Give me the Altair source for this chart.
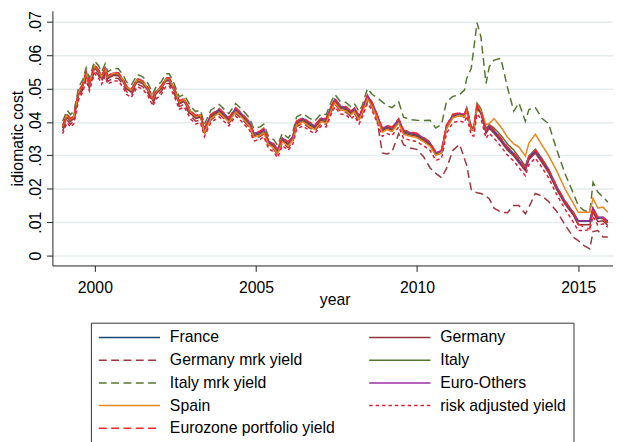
import altair as alt
import pandas as pd

dates = [1999.00,1999.14,1999.24,1999.35,1999.50,1999.62,1999.73,1999.83,1999.99,2000.11,
         2000.21,2000.32,2000.40,2000.57,2000.73,2000.88,2000.98,2001.13,2001.32,2001.49,
         2001.65,2001.80,2001.90,2002.06,2002.21,2002.31,2002.46,2002.62,2002.77,2002.98,
         2003.13,2003.28,2003.40,2003.60,2003.86,2004.16,2004.37,2004.57,2004.80,2004.93,
         2005.13,2005.24,2005.39,2005.55,2005.67,2005.82,2006.00,2006.15,2006.26,2006.45,
         2006.65,2006.82,2007.02,2007.18,2007.33,2007.45,2007.62,2007.79,2007.94,2008.05,
         2008.20,2008.30,2008.46,2008.61,2008.76,2008.92,2009.07,2009.22,2009.43,2009.58,
         2009.79,2009.99,2010.20,2010.40,2010.58,2010.76,2010.91,2011.11,2011.32,2011.47,
         2011.54,2011.68,2011.76,2011.86,2011.98,2012.14,2012.24,2012.39,2012.60,2012.80,
         2013.00,2013.16,2013.36,2013.47,2013.67,2013.88,2014.08,2014.33,2014.59,2014.85,
         2015.00,2015.18,2015.36,2015.46,2015.61,2015.77,2015.92]

france = [.0385,.0418,.0405,.0414,.0488,.0508,.0545,.0513,.0565,.0552,
          .0533,.0557,.0533,.0543,.0542,.0523,.0503,.0493,.0525,.0518,
          .0498,.0468,.0488,.0503,.0527,.0527,.0498,.0458,.0465,.0428,
          .0414,.0418,.0376,.0418,.0435,.0408,.0438,.0420,.0395,.0363,
          .0368,.0376,.0340,.0330,.0313,.0349,.0335,.0355,.0398,.0408,
          .0395,.0385,.0408,.0405,.0442,.0465,.0444,.0441,.0429,.0438,
          .0414,.0435,.0476,.0453,.0418,.0377,.0385,.0379,.0405,.0371,
          .0365,.0361,.0349,.0335,.0305,.0311,.0385,.0418,.0423,.0418,
          .0438,.0380,.0378,.0444,.0430,.0371,.0386,.0371,.0347,.0321,
          .0303,.0283,.0259,.0292,.0312,.0283,.0253,.0203,.0159,.0126,
          .0103,.0103,.0103,.0141,.0111,.0114,.0098]

germany = [.0381,.0414,.0401,.0410,.0484,.0504,.0541,.0509,.0561,.0548,
           .0529,.0553,.0529,.0539,.0538,.0519,.0499,.0489,.0521,.0514,
           .0494,.0464,.0484,.0499,.0523,.0523,.0494,.0454,.0461,.0424,
           .0410,.0414,.0372,.0414,.0431,.0404,.0434,.0416,.0391,.0359,
           .0364,.0372,.0336,.0326,.0309,.0345,.0331,.0351,.0394,.0404,
           .0391,.0381,.0404,.0401,.0438,.0461,.0440,.0437,.0425,.0434,
           .0410,.0431,.0472,.0449,.0414,.0373,.0381,.0375,.0401,.0367,
           .0361,.0357,.0345,.0331,.0301,.0307,.0381,.0414,.0419,.0414,
           .0434,.0376,.0374,.0440,.0426,.0366,.0381,.0366,.0342,.0316,
           .0298,.0278,.0254,.0287,.0307,.0278,.0248,.0198,.0154,.0121,
           .0092,.0092,.0092,.0131,.0102,.0104,.0090]

germany_mrk = [.0373,.0406,.0393,.0402,.0476,.0496,.0533,.0501,.0553,.0540,
               .0521,.0545,.0521,.0531,.0530,.0511,.0491,.0481,.0513,.0506,
               .0486,.0456,.0476,.0491,.0515,.0515,.0486,.0446,.0453,.0416,
               .0402,.0406,.0364,.0406,.0423,.0396,.0426,.0408,.0383,.0351,
               .0356,.0364,.0328,.0318,.0301,.0337,.0323,.0343,.0386,.0396,
               .0383,.0373,.0396,.0393,.0430,.0453,.0432,.0429,.0417,.0426,
               .0402,.0423,.0464,.0441,.0405,.0307,.0304,.0310,.0365,.0332,
               .0322,.0318,.0296,.0263,.0246,.0233,.0260,.0315,.0333,.0290,
               .0270,.0198,.0192,.0188,.0186,.0178,.0170,.0142,.0130,.0128,
               .0150,.0150,.0125,.0145,.0186,.0178,.0162,.0133,.0092,.0055,
               .0045,.0030,.0020,.0072,.0075,.0056,.0056]

italy = [.0387,.0420,.0407,.0416,.0490,.0510,.0547,.0515,.0567,.0554,
         .0535,.0559,.0535,.0545,.0544,.0525,.0505,.0495,.0527,.0520,
         .0500,.0470,.0490,.0505,.0529,.0529,.0500,.0460,.0467,.0430,
         .0416,.0420,.0378,.0420,.0437,.0410,.0440,.0422,.0397,.0365,
         .0370,.0378,.0342,.0332,.0315,.0351,.0337,.0357,.0400,.0410,
         .0397,.0387,.0410,.0407,.0444,.0467,.0446,.0443,.0431,.0440,
         .0416,.0437,.0478,.0455,.0420,.0379,.0387,.0381,.0407,.0373,
         .0367,.0363,.0351,.0337,.0307,.0313,.0387,.0420,.0425,.0420,
         .0442,.0385,.0384,.0456,.0440,.0380,.0392,.0382,.0360,.0335,
         .0316,.0295,.0268,.0298,.0318,.0290,.0259,.0207,.0162,.0128,
         .0104,.0104,.0104,.0142,.0114,.0114,.0100]

italy_mrk = [.0402,.0435,.0422,.0431,.0505,.0525,.0562,.0530,.0582,.0569,
             .0550,.0574,.0550,.0560,.0559,.0540,.0520,.0510,.0542,.0535,
             .0515,.0485,.0505,.0520,.0544,.0544,.0515,.0475,.0482,.0445,
             .0431,.0435,.0393,.0435,.0452,.0425,.0455,.0437,.0412,.0380,
             .0385,.0393,.0357,.0347,.0330,.0366,.0352,.0372,.0415,.0425,
             .0412,.0402,.0425,.0422,.0459,.0482,.0461,.0458,.0446,.0455,
             .0431,.0450,.0500,.0482,.0473,.0460,.0448,.0443,.0460,.0414,
             .0407,.0405,.0404,.0405,.0382,.0392,.0460,.0476,.0482,.0495,
             .0530,.0560,.0620,.0697,.0655,.0515,.0565,.0585,.0590,.0505,
             .0432,.0457,.0402,.0437,.0443,.0410,.0395,.0318,.0245,.0186,
             .0150,.0135,.0130,.0219,.0190,.0175,.0160]

euro_others = [.0388,.0421,.0408,.0417,.0491,.0511,.0548,.0516,.0568,.0555,
               .0536,.0560,.0536,.0546,.0545,.0526,.0506,.0496,.0528,.0521,
               .0501,.0471,.0491,.0506,.0530,.0530,.0501,.0461,.0468,.0431,
               .0417,.0421,.0379,.0421,.0438,.0411,.0441,.0423,.0398,.0366,
               .0371,.0379,.0343,.0333,.0316,.0352,.0338,.0358,.0401,.0411,
               .0398,.0388,.0411,.0408,.0445,.0468,.0447,.0444,.0432,.0441,
               .0417,.0438,.0479,.0456,.0421,.0380,.0388,.0382,.0408,.0374,
               .0368,.0364,.0352,.0338,.0308,.0314,.0388,.0421,.0426,.0421,
               .0441,.0383,.0381,.0447,.0433,.0374,.0389,.0374,.0350,.0324,
               .0306,.0286,.0262,.0295,.0315,.0286,.0256,.0206,.0162,.0129,
               .0104,.0104,.0104,.0142,.0115,.0115,.0104]

spain = [.0387,.0420,.0407,.0416,.0490,.0510,.0547,.0515,.0567,.0554,
         .0535,.0559,.0535,.0545,.0544,.0525,.0505,.0495,.0527,.0520,
         .0500,.0470,.0490,.0505,.0529,.0529,.0500,.0460,.0467,.0430,
         .0416,.0420,.0368,.0410,.0427,.0400,.0430,.0412,.0387,.0355,
         .0360,.0368,.0332,.0322,.0305,.0341,.0327,.0347,.0390,.0400,
         .0387,.0377,.0400,.0397,.0434,.0457,.0436,.0433,.0421,.0430,
         .0406,.0427,.0468,.0445,.0410,.0369,.0377,.0371,.0397,.0363,
         .0357,.0353,.0341,.0327,.0300,.0308,.0378,.0412,.0420,.0415,
         .0436,.0378,.0375,.0450,.0435,.0392,.0395,.0410,.0385,.0355,
         .0334,.0325,.0298,.0337,.0363,.0330,.0300,.0254,.0200,.0156,
         .0130,.0130,.0130,.0171,.0142,.0145,.0130]

risk_adj = [.0365,.0398,.0385,.0394,.0468,.0488,.0525,.0493,.0545,.0532,
            .0513,.0537,.0513,.0523,.0522,.0503,.0483,.0473,.0505,.0498,
            .0478,.0448,.0468,.0483,.0507,.0507,.0478,.0438,.0445,.0408,
            .0394,.0398,.0356,.0398,.0415,.0388,.0418,.0400,.0375,.0343,
            .0348,.0356,.0320,.0310,.0293,.0329,.0315,.0335,.0378,.0388,
            .0375,.0365,.0388,.0385,.0422,.0445,.0424,.0421,.0409,.0418,
            .0394,.0415,.0456,.0433,.0398,.0357,.0365,.0359,.0385,.0351,
            .0345,.0341,.0329,.0315,.0285,.0291,.0365,.0398,.0403,.0398,
            .0418,.0360,.0358,.0424,.0410,.0351,.0366,.0351,.0327,.0301,
            .0283,.0263,.0239,.0272,.0292,.0263,.0233,.0183,.0139,.0100,
            .0075,.0075,.0078,.0118,.0090,.0095,.0085]

eurozone = [.0390,.0423,.0410,.0419,.0493,.0513,.0550,.0518,.0570,.0557,
            .0538,.0562,.0538,.0548,.0547,.0528,.0508,.0498,.0530,.0523,
            .0503,.0473,.0493,.0508,.0532,.0532,.0503,.0463,.0470,.0433,
            .0419,.0423,.0381,.0423,.0440,.0413,.0443,.0425,.0400,.0368,
            .0373,.0381,.0345,.0335,.0318,.0354,.0340,.0360,.0403,.0413,
            .0400,.0390,.0413,.0410,.0447,.0470,.0449,.0446,.0434,.0443,
            .0419,.0440,.0481,.0458,.0423,.0382,.0390,.0384,.0410,.0376,
            .0370,.0366,.0354,.0340,.0310,.0316,.0390,.0423,.0428,.0423,
            .0443,.0385,.0383,.0449,.0435,.0376,.0391,.0376,.0352,.0326,
            .0308,.0288,.0264,.0297,.0317,.0288,.0258,.0208,.0164,.0130,
            .0095,.0085,.0080,.0140,.0110,.0110,.0095]

# drawing order (first drawn at the bottom)
names = ["France", "Germany", "Germany mrk yield", "Italy", "Italy mrk yield",
         "Euro-Others", "Spain", "risk adjusted yield", "Eurozone portfolio yield"]
series = [france, germany, germany_mrk, italy, italy_mrk, euro_others, spain, risk_adj, eurozone]
colors = ["#1a476f", "#90353b", "#a0343f", "#55752f", "#55752f",
          "#9a2fa5", "#e8871a", "#e31b3c", "#f42a2a"]
dashes = [[1, 0], [1, 0], [8, 4.5], [1, 0], [8, 4.5], [1, 0], [1, 0], [3.5, 3], [8, 4.5]]

# legend order (filled column by column, 5 + 4)
legend_order = ["France", "Germany mrk yield", "Italy mrk yield", "Spain",
                "Eurozone portfolio yield", "Germany", "Italy", "Euro-Others",
                "risk adjusted yield"]
legend_colors = [colors[names.index(n)] for n in legend_order]
legend_dashes = [dashes[names.index(n)] for n in legend_order]

y_ticks = [0, 0.01, 0.02, 0.03, 0.04, 0.05, 0.06, 0.07]
x_ticks = [2000, 2005, 2010, 2015]

rows = []
for name, vals in zip(names, series):
    for d, v in zip(dates, vals):
        rows.append({"year": d, "value": v, "series": name})
df = pd.DataFrame(rows)

base = alt.Chart(df).mark_line(strokeWidth=1.5, clip=True).encode(
    x=alt.X("year:Q",
            scale=alt.Scale(domain=[1998.683, 2016.08], nice=False, zero=False),
            axis=alt.Axis(values=x_ticks, format="d", title="year", grid=False,
                          labelPadding=8, titleBaseline="alphabetic",
                          titleX=286, titleY=40, titleAlign="center")),
    y=alt.Y("value:Q",
            scale=alt.Scale(domain=[-0.00295, 0.07324], nice=False, zero=False),
            axis=alt.Axis(values=y_ticks, title="idiomatic cost", grid=True,
                          labelExpr="datum.value == 0 ? '0' : substring(format(datum.value, '.2f'), 1)",
                          labelAngle=270, labelAlign="center", labelBaseline="alphabetic",
                          labelPadding=6.5, gridColor="#e4ecee", gridWidth=1.5,
                          titleAngle=270, titleAlign="center", titleBaseline="alphabetic",
                          titleX=-30, titleY=129)),
    color=alt.Color("series:N", title=None,
                    scale=alt.Scale(domain=legend_order, range=legend_colors)),
    strokeDash=alt.StrokeDash("series:N", title=None,
                              scale=alt.Scale(domain=legend_order, range=legend_dashes)),
)

layers = [base.transform_filter(alt.datum.series == n) for n in names]

chart = alt.layer(*layers).properties(
    width=568, height=258,
    padding={"left": 45, "top": 0, "right": 0, "bottom": 176},
    autosize=alt.AutoSizeParams(type="none"),
).configure_view(
    strokeWidth=0
).configure_axis(
    domainColor="#222", tickColor="#222", labelColor="#000", titleColor="#000",
    labelFont="Liberation Sans", titleFont="Liberation Sans",
    labelFontSize=16, titleFontSize=16, titleFontWeight="normal",
    tickSize=6, domainWidth=1, tickWidth=1,
).configure_legend(
    orient="none", legendX=39, legendY=316, columns=2,
    symbolType="stroke", symbolSize=3844, symbolStrokeWidth=1.5,
    clipHeight=16, rowPadding=7, columnPadding=33, labelOffset=9,
    labelFontSize=16, labelFont="Liberation Sans", labelColor="#000", labelLimit=300,
    padding=7, strokeColor="#333", fillColor="white",
)

chart.save("out.html", embed_options={"renderer": "svg", "actions": False})
